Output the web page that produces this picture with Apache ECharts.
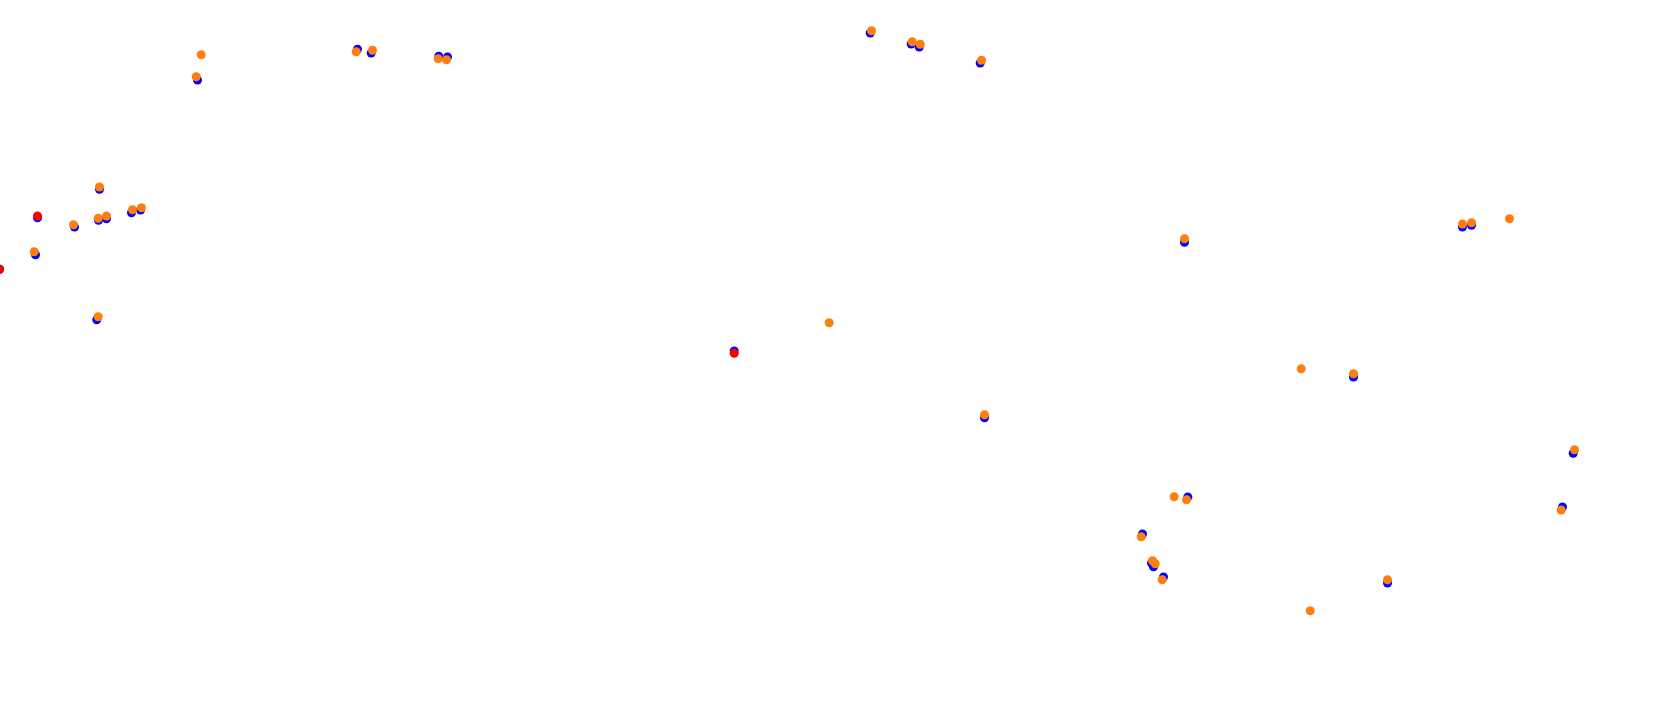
<!DOCTYPE html>
<html>
<head>
<meta charset="utf-8">
<script src="https://cdn.jsdelivr.net/npm/echarts@6/dist/echarts.min.js"></script>
<style>html,body{margin:0;padding:0;background:#fff}#c{width:1680px;height:728px}</style>
</head>
<body>
<div id="c"></div>
<script>
// x / y positions (y measured downward) of each marker
const blueX = [99, 37, 74, 98, 106, 131, 140, 35, -1, 96.3, 197, 357, 370.7, 438.3, 447, 869.7, 910.7, 918.7, 979.7, 733.7, 1187.3, 1142, 1151, 1153, 1163, 1462, 1471, 1353, 1184, 984, 1572.7, 1562, 1387];
const blueY = [188.3, 216.7, 226, 219.3, 217.7, 211.7, 209, 253.7, 268, 318.7, 79, 48.3, 52, 55.3, 56, 32, 43, 46, 62, 350, 496, 533, 562, 565.7, 576, 226, 224.3, 376, 241.3, 416.7, 452.3, 506, 582];
const orangeX = [99, 73, 97.7, 106, 132, 141, 33.7, 97.7, 200.7, 195.7, 355.7, 372, 437.7, 446, 871, 911.7, 919.7, 981, 828.7, 1173.7, 1186, 1140.7, 1152, 1154.7, 1161.7, 1309.7, 1462, 1471, 1509, 1300.7, 1353, 1184, 984, 1574, 1560.7, 1387];
const orangeY = [186, 223.7, 217.3, 215, 208.7, 206.7, 250.7, 315.7, 53.7, 75.7, 50.7, 49.3, 57.7, 58.7, 29.7, 40.7, 43.3, 59.3, 321.7, 495.7, 498.7, 535.7, 559.7, 562.7, 578.7, 609.7, 223, 221.7, 217.7, 367.7, 372.7, 237.7, 413.7, 448.7, 509, 578.7];
const redX = [37, 733.7, -1];
const redY = [215, 352.3, 268.5];

const zip = (xs, ys) => xs.map((x, i) => [x, ys[i]]);

const chart = echarts.init(document.getElementById('c'));
chart.setOption({
  animation: false,
  grid: {left: 0, right: 0, top: 0, bottom: 0},
  xAxis: {type: 'value', min: -0.5, max: 1679.5, show: false},
  yAxis: {type: 'value', min: -1, max: 727, inverse: true, show: false},
  series: [
    {type: 'scatter', clip: false, symbolSize: 9, itemStyle: {color: '#0000ff', opacity: 1}, data: zip(blueX, blueY)},
    {type: 'scatter', clip: false, symbolSize: 9, itemStyle: {color: '#ff7f0e', opacity: 1}, data: zip(orangeX, orangeY)},
    {type: 'scatter', clip: false, symbolSize: 9, itemStyle: {color: '#ff0000', opacity: 1}, data: zip(redX, redY)}
  ]
});
</script>
</body>
</html>
